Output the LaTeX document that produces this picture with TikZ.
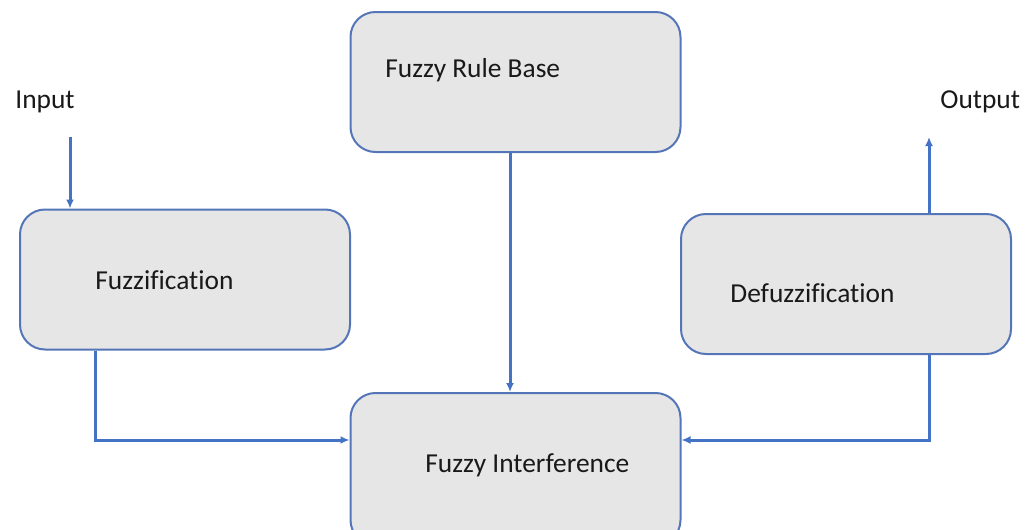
\documentclass[tikz,border=0pt]{standalone}
\usepackage{fontspec}
\setmainfont[Ligatures=NoCommon]{Carlito}
\usepackage{tikz}
\usetikzlibrary{arrows.meta}
\definecolor{boxline}{RGB}{84,118,184}
\definecolor{flowblue}{RGB}{68,114,196}
\definecolor{boxfill}{RGB}{230,230,230}
\definecolor{txt}{RGB}{25,25,25}
\tikzstyle{block}=[draw=boxline, fill=boxfill, line width=1pt, rounded corners=12.5pt, minimum width=165pt, minimum height=70pt]
\tikzstyle{lbl}=[anchor=west, inner sep=0pt, text=txt, font=\fontsize{13.7}{16}\selectfont]
\tikzstyle{flow}=[draw=flowblue, line width=1.5pt, -{Latex[length=4.5pt,width=4pt]}]

\begin{document}
\begin{tikzpicture}[x=0.5pt, y=-0.5pt]
    \useasboundingbox (0,0) rectangle (1035,530);
    % the four blocks
    \node[block] (rb) at (515.5,82) {};
    \node[block] (fz) at (185,279.5) {};
    \node[block] (df) at (846,284) {};
    \node[block, minimum height=76pt] (fi) at (515.5,469) {};

    % block texts
    \node[lbl] (rbtext) at (385,70) {Fuzzy Rule Base};
    \node[lbl] (fztext) at (95,280) {Fuzzification};
    \node[lbl] (dftext) at (730,293) {Defuzzification};
    \node[lbl] (fitext) at (425,465) {Fuzzy Interference};
    \node[lbl] (intext) at (15,102) {Input};
    \node[lbl] (outtext) at (940,102) {Output};

    % free ends of the outer arrows
    \coordinate (inpt) at (70,137);
    \coordinate (outpt) at (929,137);

    % arrows
    \draw[flow] (inpt) -- (inpt |- fz.north);
    \draw[flow] (df.north -| outpt) -- (outpt);
    \draw[flow] ([xshift=-2.75pt]rb.south) -- ([xshift=-2.75pt]fi.north);
    \draw[flow] ([xshift=-45pt]fz.south) |- ([yshift=14.5pt]fi.west);
    \draw[flow] ([xshift=41.5pt]df.south) |- ([yshift=14.5pt]fi.east);
  \end{tikzpicture}
\end{document}
